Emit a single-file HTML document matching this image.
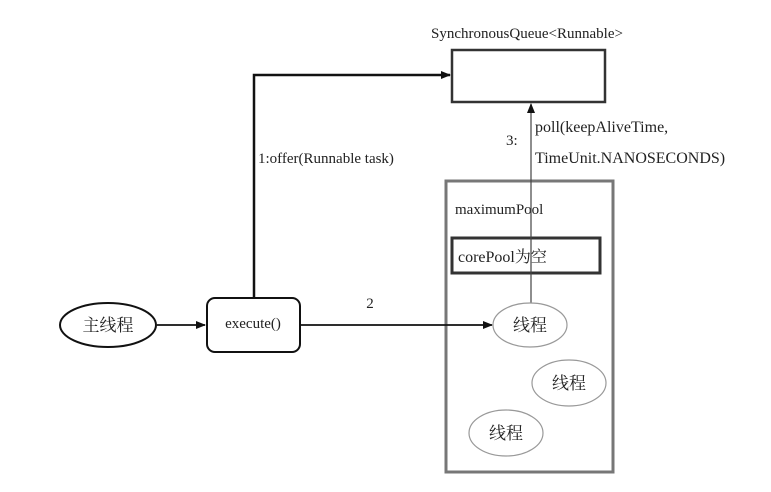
<!DOCTYPE html>
<html><head><meta charset="utf-8"><style>
html,body{margin:0;padding:0;background:#fff;}
svg{display:block;}
text{font-family:"Liberation Serif","Times New Roman",Times,"Noto Serif CJK SC",serif;fill:#222;}
</style></head><body>
<svg width="771" height="492" viewBox="0 0 771 492" xmlns="http://www.w3.org/2000/svg">
<defs>
<marker id="a" markerWidth="10" markerHeight="8" refX="9" refY="4" orient="auto" markerUnits="userSpaceOnUse">
<path d="M0,0 L10,4 L0,8 z" fill="#111"/></marker>
</defs>
<text x="527" y="38" font-size="15" text-anchor="middle">SynchronousQueue&lt;Runnable&gt;</text>
<rect x="452" y="50" width="153" height="52" fill="#fff" stroke="#333" stroke-width="2.5"/>
<rect x="446" y="181" width="167" height="291" fill="none" stroke="#777" stroke-width="3"/>
<text x="455" y="214" font-size="15">maximumPool</text>
<rect x="452" y="238" width="148" height="35" fill="none" stroke="#333" stroke-width="3"/>
<text x="458" y="262" font-size="16">corePool为空</text>
<line x1="531" y1="303" x2="531" y2="104" stroke="#444" stroke-width="1.2" marker-end="url(#a)"/>
<text x="506" y="145" font-size="15">3:</text>
<text x="535" y="132" font-size="16">poll(keepAliveTime,</text>
<text x="535" y="163" font-size="16">TimeUnit.NANOSECONDS)</text>
<polyline points="254,298 254,75 450,75" fill="none" stroke="#111" stroke-width="2.5" marker-end="url(#a)"/>
<text x="258" y="163" font-size="15">1:offer(Runnable task)</text>
<ellipse cx="108" cy="325" rx="48" ry="22" fill="#fff" stroke="#111" stroke-width="2"/>
<text x="108" y="331" font-size="17" text-anchor="middle">主线程</text>
<line x1="157" y1="325" x2="205" y2="325" stroke="#111" stroke-width="1.8" marker-end="url(#a)"/>
<rect x="207" y="298" width="93" height="54" rx="8" fill="#fff" stroke="#111" stroke-width="2"/>
<text x="253" y="328" font-size="15" text-anchor="middle">execute()</text>
<line x1="300" y1="325" x2="492" y2="325" stroke="#111" stroke-width="1.8" marker-end="url(#a)"/>
<text x="370" y="308" font-size="15" text-anchor="middle">2</text>
<ellipse cx="530" cy="325" rx="37" ry="22" fill="#fff" stroke="#999" stroke-width="1.2"/>
<text x="530" y="331" font-size="17" text-anchor="middle">线程</text>
<ellipse cx="569" cy="383" rx="37" ry="23" fill="#fff" stroke="#999" stroke-width="1.2"/>
<text x="569" y="389" font-size="17" text-anchor="middle">线程</text>
<ellipse cx="506" cy="433" rx="37" ry="23" fill="#fff" stroke="#999" stroke-width="1.2"/>
<text x="506" y="439" font-size="17" text-anchor="middle">线程</text>
</svg>
</body></html>
